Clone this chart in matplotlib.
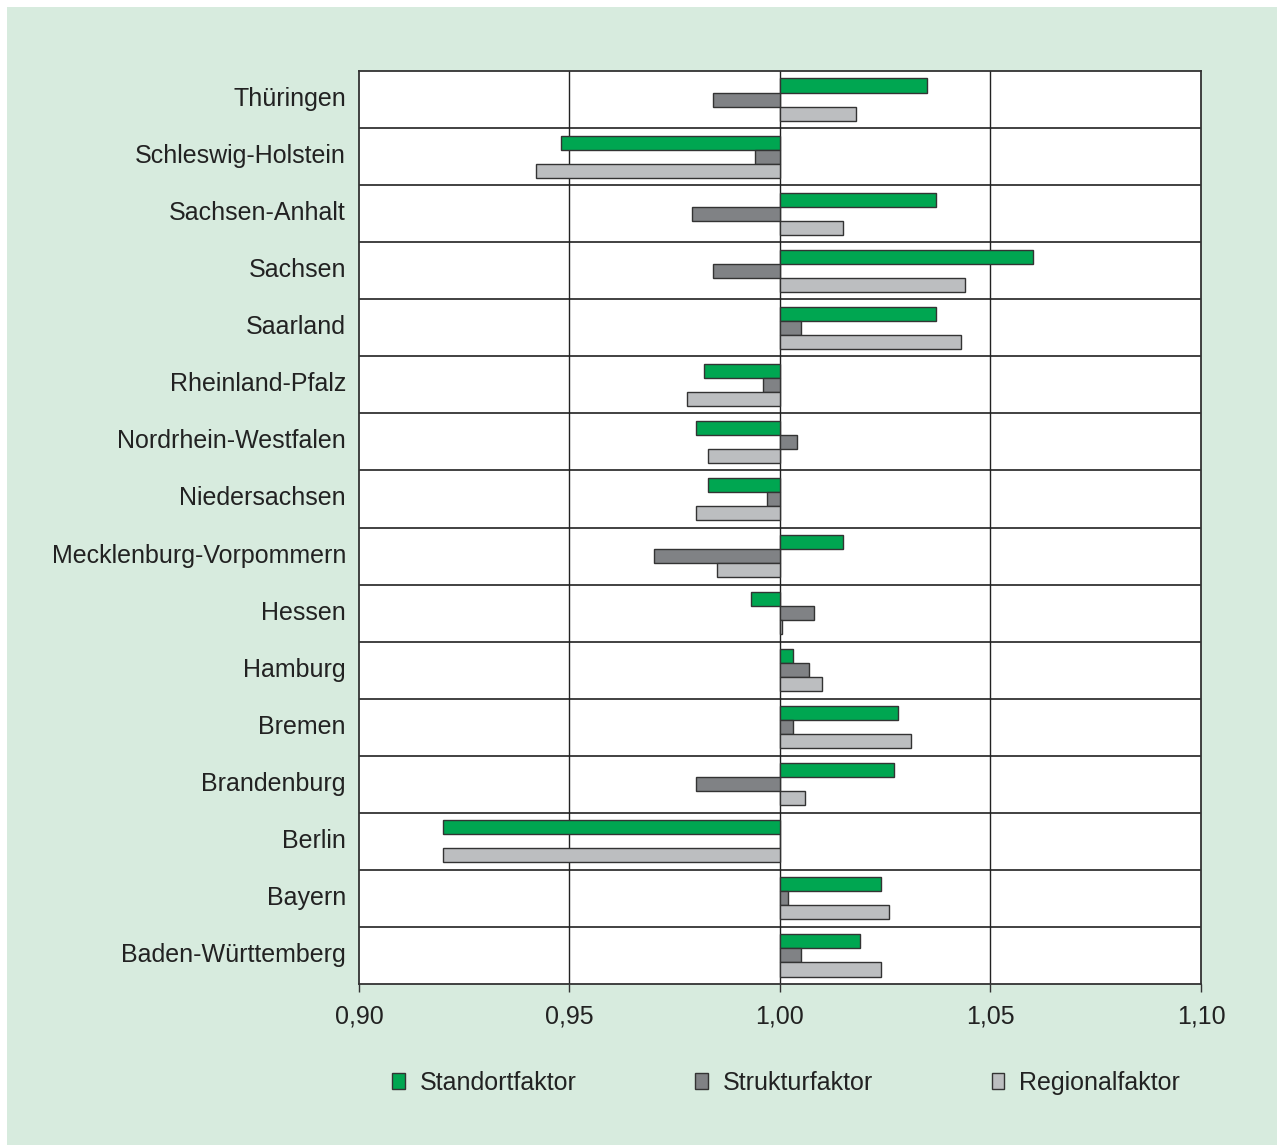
import matplotlib
matplotlib.use("Agg")
import matplotlib.pyplot as plt
from matplotlib.patches import Rectangle, Patch
from matplotlib.transforms import ScaledTranslation
import numpy as np

plt.rcParams['font.family'] = ['Liberation Sans', 'DejaVu Sans']

# Bundesländer von oben nach unten
laender = ['Thüringen', 'Schleswig-Holstein', 'Sachsen-Anhalt', 'Sachsen', 'Saarland',
           'Rheinland-Pfalz', 'Nordrhein-Westfalen', 'Niedersachsen',
           'Mecklenburg-Vorpommern', 'Hessen', 'Hamburg', 'Bremen', 'Brandenburg',
           'Berlin', 'Bayern', 'Baden-Württemberg']

standortfaktor = [1.035, 0.948, 1.037, 1.060, 1.037, 0.982, 0.980, 0.983,
                  1.015, 0.993, 1.003, 1.028, 1.027, 0.920, 1.024, 1.019]
strukturfaktor = [0.984, 0.994, 0.979, 0.984, 1.005, 0.996, 1.004, 0.997,
                  0.970, 1.008, 1.007, 1.003, 0.980, 1.000, 1.002, 1.005]
regionalfaktor = [1.018, 0.942, 1.015, 1.044, 1.043, 0.978, 0.983, 0.980,
                  0.985, 1.0005, 1.010, 1.031, 1.006, 0.920, 1.026, 1.024]

x_ticks = [0.90, 0.95, 1.00, 1.05, 1.10]
x_tick_labels = ['0,90', '0,95', '1,00', '1,05', '1,10']

farben = ['#00a651', '#808285', '#bcbec0']
namen = ['Standortfaktor', 'Strukturfaktor', 'Regionalfaktor']

fig = plt.figure(figsize=(12.79, 11.47), dpi=100)
fig.patch.set_facecolor('white')
fig.patches.append(Rectangle((7 / 1279, 2 / 1147), 1270 / 1279, 1138 / 1147,
                             transform=fig.transFigure, facecolor='#d7ebde',
                             edgecolor='none', zorder=-10))

ax = fig.add_axes([359 / 1279, 1 - 984 / 1147, 842 / 1279, 913 / 1147])
ax.set_facecolor('white')

n = len(laender)
y = np.arange(n)
h = 0.246
basis = 1.0
for i, (werte, farbe) in enumerate(zip([standortfaktor, strukturfaktor, regionalfaktor], farben)):
    werte = np.array(werte)
    ax.barh(y + (i - 1) * h, werte - basis, left=basis, height=h, color=farbe,
            edgecolor='#333333', linewidth=1.0, zorder=3)

ax.set_ylim(n - 0.5, -0.5)
ax.set_xlim(0.90, 1.10)

# Trennlinien zwischen Ländern
for b in np.arange(0.5, n - 0.5, 1):
    ax.axhline(b, color='#333333', linewidth=1.3, zorder=2)
for xv in [0.95, 1.00, 1.05]:
    ax.axvline(xv, color='#222222', linewidth=1.0, zorder=2)

ax.set_yticks(y)
ax.set_yticklabels(laender, fontsize=18, color='#222222')
ax.tick_params(axis='y', length=0, pad=9.4)
# Beschriftungen leicht nach oben versetzen
for lab in ax.get_yticklabels():
    lab.set_transform(lab.get_transform() + ScaledTranslation(0, 3 / 100, fig.dpi_scale_trans))

ax.set_xticks(x_ticks)
ax.set_xticklabels(x_tick_labels, fontsize=18, color='#222222')
ax.tick_params(axis='x', length=6, width=1, direction='out', pad=9, color='#333333')

for s in ax.spines.values():
    s.set_color('#333333')
    s.set_linewidth(1.3)

handles = [Patch(facecolor=f, edgecolor='#333333', linewidth=1.0) for f in farben]
fig.legend(handles, namen, loc='center', bbox_to_anchor=(786 / 1279, 1 - 1083 / 1147),
           ncol=3, frameon=False, fontsize=18, handlelength=0.5, handleheight=0.6,
           handletextpad=0.6, columnspacing=4.75, labelcolor='#222222')

fig.savefig('out.png', dpi=100, facecolor=fig.get_facecolor())
